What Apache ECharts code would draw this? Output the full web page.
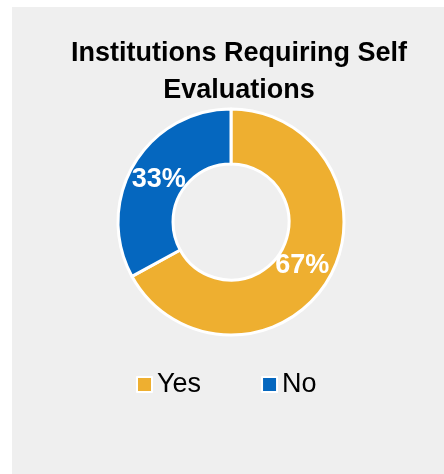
<!DOCTYPE html>
<html><head><meta charset="utf-8">
<script src="https://cdn.jsdelivr.net/npm/echarts@6/dist/echarts.min.js"></script>
<style>html,body{margin:0;padding:0;background:#fff}#c{width:444px;height:474px}</style>
</head><body><div id="c"></div>
<script>
const titleText = 'Institutions Requiring Self\nEvaluations';
const categories = ['Yes', 'No'];
const values = [67, 33];
const colors = ['#EEAF30', '#0567BF'];
const labelOffsets = [[-5, -2], [4, 3]];
const FONT = '"Liberation Sans Narrow", "Arial Narrow", "Liberation Sans", Arial, sans-serif';

const chart = echarts.init(document.getElementById('c'));
chart.setOption({
  animation: false,
  graphic: [{ type: 'rect', z: -10, shape: { x: 12, y: 7, width: 432, height: 467 }, style: { fill: '#EFEFEF' } }],
  title: {
    text: titleText, left: 234, top: 30, textAlign: 'center',
    textStyle: { fontFamily: FONT, fontSize: 27, fontWeight: 'bold', color: '#000', lineHeight: 37 }
  },
  legend: {
    left: 131, top: 366, icon: 'rect', itemWidth: 15, itemHeight: 15, itemGap: 60,
    textStyle: { fontFamily: FONT, fontSize: 27, color: '#000', padding: [0, 0, 0, 0] },
    data: categories
  },
  series: [{
    type: 'pie', center: [231, 222], radius: [58, 113], startAngle: 90, clockwise: true,
    itemStyle: { borderColor: '#fff', borderWidth: 3 },
    label: { show: true, position: 'inside', formatter: '{c}%', color: '#fff',
      fontFamily: FONT, fontSize: 27, fontWeight: 'bold' },
    labelLine: { show: false },
    data: categories.map((c, i) => ({ name: c, value: values[i], itemStyle: { color: colors[i] },
      label: { offset: labelOffsets[i] } }))
  }]
});
</script></body></html>
